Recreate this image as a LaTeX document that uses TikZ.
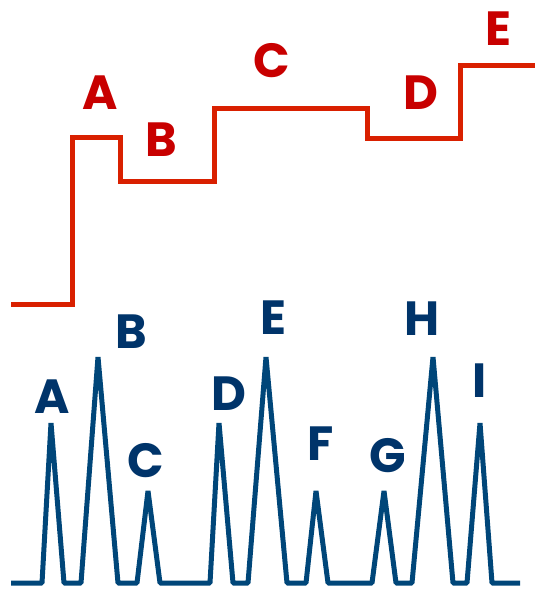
\documentclass[tikz,border=0pt]{standalone}
\usepackage{fontspec}
\newfontfamily\labfont{Poppins}
\definecolor{stepred}{HTML}{D92000}
\definecolor{labred}{HTML}{C80000}
\definecolor{peakblue}{HTML}{004679}
\definecolor{labblue}{HTML}{00346A}
\begin{document}
\begin{tikzpicture}[x=1pt,y=-1pt,
  steps/.style={draw=stepred,line width=5pt},
  peaks/.style={draw=peakblue,line width=5pt,line join=bevel},
  lab/.style={inner sep=0pt,font=\labfont\bfseries\fontsize{48}{48}\selectfont},
  redlab/.style={lab,text=labred},
  bluelab/.style={lab,text=labblue}]
\useasboundingbox (0,0) rectangle (535,589);
% staircase trace
\draw[steps] (11,304) -- (72,304) -- (72,137) -- (120,137) -- (120,181)
  -- (214,181) -- (214,108) -- (367,108) -- (367,138) -- (460,138)
  -- (460,65) -- (535,65);
% staircase labels
\node[redlab] (sA) at (100,93) {A};
\node[redlab] (sB) at (161,140) {B};
\node[redlab] (sC) at (272,61) {C};
\node[redlab] (sD) at (421,93) {D};
\node[redlab] (sE) at (498,29) {E};
% peak trace
\draw[peaks] (11,583) -- (42,583) -- (51,423) -- (64,583) -- (81,583)
  -- (98,357) -- (118,583) -- (137,583) -- (148,491) -- (160,583)
  -- (210,583) -- (219,423) -- (233,583) -- (248,583) -- (266,357)
  -- (287,583) -- (306,583) -- (316,491) -- (328,583) -- (372,583)
  -- (384,491) -- (396,583) -- (412,583) -- (433,357) -- (453,583)
  -- (467,583) -- (480,423) -- (492,583) -- (520,583);
% peak labels
\node[bluelab] (pA) at (52,397) {A};
\node[bluelab] (pB) at (131,332) {B};
\node[bluelab] (pC) at (146,461) {C};
\node[bluelab] (pD) at (229,394) {D};
\node[bluelab] (pE) at (273,318) {E};
\node[bluelab] (pF) at (321,444) {F};
\node[bluelab] (pG) at (388,456) {G};
\node[bluelab] (pH) at (422,319) {H};
\node[bluelab] (pI) at (480,381) {I};
\end{tikzpicture}
\end{document}
